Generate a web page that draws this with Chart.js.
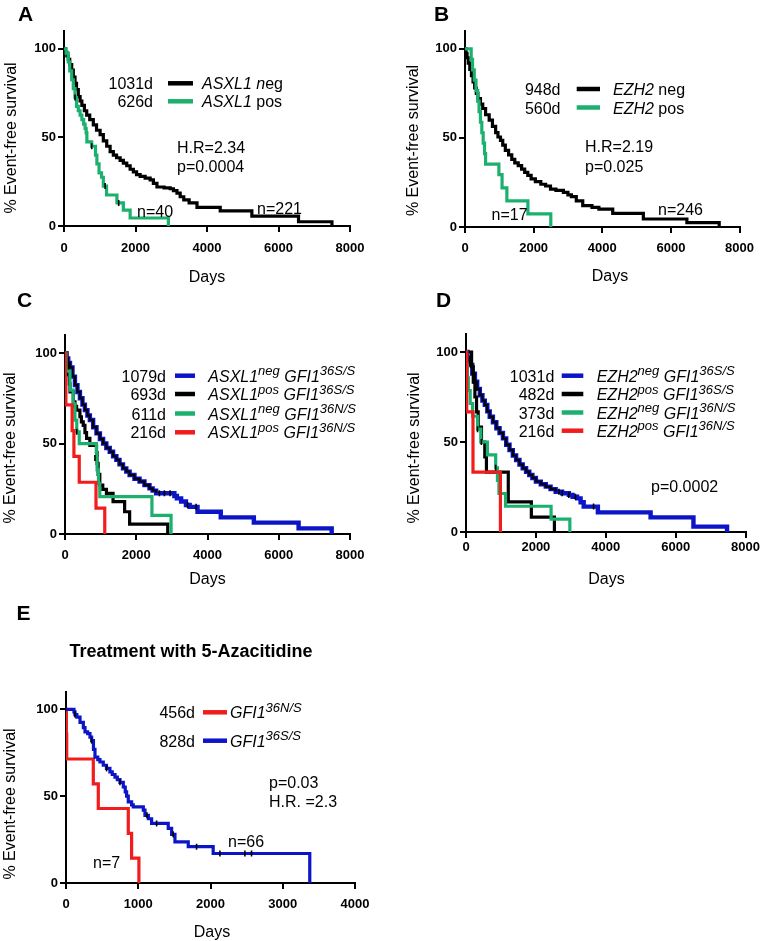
<!DOCTYPE html>
<html><head><meta charset="utf-8">
<script src="https://cdn.jsdelivr.net/npm/chart.js@4.4.1/dist/chart.umd.min.js"></script>
<style>
html,body{margin:0;padding:0;background:#fff;}
body{width:762px;height:941px;position:relative;overflow:hidden;}
canvas{position:absolute;}
</style></head><body>
<script>
// ---------- tick labels ----------
const xTicksLong = [0, 2000, 4000, 6000, 8000];
const xTicksShort = [0, 1000, 2000, 3000, 4000];
const yTicks = [0, 50, 100];

// ---------- Panel A: ASXL1 ----------
const asxl1Neg = [[0,100],[40,98],[80,96],[120,94],[160,91],[215,88],[260,84],[308,80.5],[350,77],[400,73],[450,70.5],[500,68],[570,65],[635,62.5],[720,60],[820,57],[910,54],[1010,51.5],[1100,48],[1195,45],[1290,42],[1380,40],[1470,38.5],[1570,37],[1660,35.5],[1755,34],[1850,32],[1940,30.5],[2030,29],[2130,28],[2270,27],[2410,26],[2500,24],[2600,22],[2800,21.5],[2970,21],[3060,20],[3160,18.5],[3250,16.5],[3350,14.7],[3500,13],[3720,10.5],[4370,8.5],[5255,5.6],[6560,2.4],[7495,0]];
const asxl1Pos = [[0,100],[60,97.5],[120,92.5],[160,87.5],[215,82.5],[260,77.5],[308,72.5],[350,67.5],[400,65],[450,62.5],[500,60],[550,57.5],[590,55],[620,52.5],[640,47.5],[775,45],[880,40],[920,35],[980,30],[1050,27.5],[1100,22.5],[1190,17.5],[1480,13],[1660,9],[1850,4.5],[2920,0]];
const asxl1PosCensor = [[308,72.5],[775,45],[1150,22.5],[1530,13]];

// ---------- Panel B: EZH2 ----------
const ezh2Neg = [[0,100],[30,97.5],[60,95],[94,92],[140,88.5],[188,85],[235,81.5],[282,78],[330,75],[376,72],[450,69],[517,66.5],[600,63],[705,60],[800,56.5],[893,53],[960,50.5],[1034,48.6],[1100,46],[1175,43],[1270,40.5],[1363,38],[1450,36],[1551,34.5],[1650,32.5],[1739,30.7],[1830,29],[1927,27],[2050,25.5],[2209,24],[2350,23],[2491,21.3],[2650,20.5],[2867,19.4],[3000,18],[3100,17],[3243,14.7],[3431,12],[3700,11],[3901,10],[4305,7.7],[5197,4.5],[6466,2.4],[7407,0]];
const ezh2Pos = [[0,100],[180,94.1],[220,88.2],[270,82.4],[320,76.5],[370,70.6],[410,64.7],[450,58.8],[490,52.9],[530,47.1],[570,41.2],[600,35.3],[987,29.4],[1080,22],[1220,14.7],[1833,7.4],[2500,0]];

// ---------- Panel C: ASXL1 x GFI1 ----------
const asxl1NegSS = [[0,100],[40,97],[90,94.5],[140,92],[210,87],[279,82.3],[350,78.5],[419,75],[490,71.5],[558,68.5],[630,65.5],[698,63],[790,59],[884,55.6],[980,52.5],[1070,50],[1160,47.5],[1256,45.5],[1350,43],[1442,41],[1530,38.5],[1628,36.3],[1720,34.5],[1814,32.6],[1950,30.5],[2093,29],[2230,27],[2372,25.2],[2460,24],[2558,22.5],[3070,21],[3140,19.7],[3260,18],[3395,16],[3500,15],[3720,12.3],[4372,9.2],[5301,6.3],[6557,3.1],[7486,0]];
const asxl1PosSS = [[0,100],[50,94],[93,88],[120,83],[140,78.6],[233,73],[280,70.5],[325,68.5],[419,64.8],[460,62],[512,60],[560,56],[605,52.9],[698,49],[884,45],[900,39],[930,33],[977,27],[1060,24.7],[1163,22.5],[1349,17.9],[1674,12.3],[1814,5.5],[2884,0]];
const asxl1NegNS = [[0,100],[30,90],[140,79.5],[230,72],[279,63],[330,56.5],[400,50],[884,42],[900,35.4],[940,28],[977,20.7],[2440,10.3],[2977,0]];
const asxl1PosNS = [[0,100],[10,85.7],[25,71.4],[200,57.1],[250,42.9],[400,28.6],[870,14.3],[1116,0]];
const asxl1NegSSCensor = [[2650,22.5],[2790,22.5],[2950,22.5],[3440,16],[3680,15]];
const asxl1NegNSCensor = [[330,56.5],[840,42]];

// ---------- Panel D: EZH2 x GFI1 ----------
const ezh2NegSS = [[0,100],[40,97],[80,95],[113,92.8],[180,88],[255,83.5],[320,79.5],[396,76],[470,73],[538,70.6],[610,67],[679,64],[770,61],[868,57.6],[960,55],[1057,52],[1150,48.5],[1245,45.5],[1340,42.5],[1434,40],[1530,37.5],[1623,35.4],[1720,33.5],[1811,31.7],[1900,30],[2000,28],[2140,26.5],[2283,25.2],[2420,23.8],[2566,22.4],[2750,21.5],[2943,20.6],[3050,19.6],[3180,18.7],[3280,16.5],[3368,14.1],[3774,10.9],[5283,8.1],[6509,3],[7471,0]];
const ezh2PosSS = [[0,100],[160,91.7],[208,83.3],[255,75],[302,66.7],[349,58.3],[443,50],[538,41.7],[585,33.3],[1210,16.7],[1870,8.3],[2530,0]];
const ezh2NegNS = [[0,100],[20,92.9],[40,85.7],[66,78.6],[120,71.4],[189,64.3],[330,57.1],[424,50],[613,42.9],[849,35.7],[900,28.6],[943,21.4],[1132,14.3],[2435,7.1],[2972,0]];
const ezh2PosNS = [[0,100],[20,66.7],[200,33.3],[985,0]];
const ezh2NegSSCensor = [[2660,22.4],[2754,21.5],[2943,20.6],[3132,19.6],[3651,14.1]];
const ezh2NegNSCensor = [[330,57.1],[440,50],[849,35.7]];

// ---------- Panel E: 5-Azacitidine ----------
const azaNS = [[0,100],[5,85.7],[10,71.4],[378,57.1],[447,42.9],[862,28.6],[908,14.3],[1009,0]];
const azaSS = [[0,100],[110,98.5],[124,97],[150,95.5],[194,92.5],[240,89.5],[263,87],[300,86],[332,84],[355,82],[380,77],[401,72.5],[440,71],[470,69.7],[516,67.8],[560,66],[608,64],[640,62.5],[678,61],[710,59.5],[747,58],[793,55.3],[820,52.5],[839,50],[862,46.7],[908,45],[931,43.8],[1070,42],[1093,39],[1140,37],[1185,34.3],[1415,31.5],[1462,28],[1508,23.7],[1692,20.9],[2037,17],[3374,0]];
const azaSSCensor = [[124,97],[355,82],[562,66],[747,58],[1120,39],[1254,34.3],[1484,28],[1807,20.9],[2130,17],[2476,17],[2568,17]];

// ---------- styling ----------
const FONT = '"Liberation Sans", Arial, Helvetica, sans-serif';
const GREEN = '#1cb06e', BLUE = '#0c14c8', RED = '#f21c1c', BLACK = '#000000';
Chart.defaults.font.family = FONT;

function curve(data, color, width) {
  return {data, borderColor: color, borderWidth: width || 3.2, stepped: 'before',
    pointRadius: 0, fill: false, tension: 0};
}
function censor(data) {
  return {data, showLine: false, pointStyle: 'line', pointRotation: 90, pointRadius: 3,
    pointBorderColor: '#000', pointBorderWidth: 1.6, borderColor: '#000'};
}

const ital = t => ({t, i: true});
const sup = t => ({t, i: true, s: true});
const rom = t => ({t});

const panels = [
  { letter: {t: 'A', x: 18, y: 21}, canvas: {x: 0, y: 0, w: 381, h: 295}, area: {l: 64, r: 350, t: 31, b: 226},
    xMax: 8000, xTicks: xTicksLong, xPad: 9,
    yTitle: {x: 10, y: 138}, xTitle: {x: 207, y: 281.5},
    datasets: [censor(asxl1PosCensor), curve(asxl1Pos, GREEN), curve(asxl1Neg, BLACK)],
    legend: {numR: 153, l1: 168, l2: 193, lx: 202, rows: [
      {b: 89.3, num: '1031d', c: BLACK, segs: [ital('ASXL1 n'), rom('eg')]},
      {b: 107.3, num: '626d', c: GREEN, segs: [ital('ASXL1'), rom(' pos')]}]},
    notes: [{t: 'H.R=2.34', x: 177, y: 153}, {t: 'p=0.0004', x: 177, y: 172}, {t: 'n=40', x: 137, y: 216.5}, {t: 'n=221', x: 257, y: 213.5}] },
  { letter: {t: 'B', x: 434, y: 21}, canvas: {x: 381, y: 0, w: 381, h: 295}, area: {l: 465, r: 745, t: 31, b: 227},
    xMax: 8000, xTicks: xTicksLong, xPad: 8,
    yTitle: {x: 412.7, y: 140.5}, xTitle: {x: 610, y: 281},
    datasets: [curve(ezh2Pos, GREEN), curve(ezh2Neg, BLACK)],
    legend: {numR: 560.5, l1: 576.7, l2: 600, lx: 613, rows: [
      {b: 95, num: '948d', c: BLACK, segs: [ital('EZH2'), rom(' neg')]},
      {b: 113.5, num: '560d', c: GREEN, segs: [ital('EZH2'), rom(' pos')]}]},
    notes: [{t: 'H.R=2.19', x: 585, y: 152}, {t: 'p=0.025', x: 585, y: 171.5}, {t: 'n=17', x: 491.5, y: 219.5}, {t: 'n=246', x: 658, y: 214.5}] },
  { letter: {t: 'C', x: 17, y: 306.7}, canvas: {x: 0, y: 285, w: 381, h: 305}, area: {l: 65, r: 350, t: 335, b: 534},
    xMax: 8000, xTicks: xTicksLong, xPad: 8,
    yTitle: {x: 9.5, y: 448}, xTitle: {x: 207.5, y: 583.5},
    datasets: [curve(asxl1PosNS, RED), censor(asxl1NegNSCensor), curve(asxl1NegNS, GREEN), curve(asxl1PosSS, BLACK),
               censor(asxl1NegSSCensor),
               curve(asxl1NegSS.filter(p => p[0] <= 2560), BLACK, 2), curve(asxl1NegSS, BLUE, 4.4)],
    legend: {numR: 166, l1: 175, l2: 195, lx: 208.3, rows: [
      {b: 381.7, num: '1079d', c: BLUE, segs: [ital('ASXL1'), sup('neg'), ital(' GFI1'), sup('36S/S')]},
      {b: 400, num: '693d', c: BLACK, segs: [ital('ASXL1'), sup('pos'), ital(' GFI1'), sup('36S/S')]},
      {b: 419.5, num: '611d', c: GREEN, segs: [ital('ASXL1'), sup('neg'), ital(' GFI1'), sup('36N/S')]},
      {b: 438.3, num: '216d', c: RED, segs: [ital('ASXL1'), sup('pos'), ital(' GFI1'), sup('36N/S')]}]},
    notes: [] },
  { letter: {t: 'D', x: 436, y: 306.7}, canvas: {x: 381, y: 285, w: 381, h: 305}, area: {l: 466, r: 747, t: 334, b: 532},
    xMax: 8000, xTicks: xTicksLong, xPad: 2,
    yTitle: {x: 413, y: 448}, xTitle: {x: 606.5, y: 584},
    datasets: [curve(ezh2PosNS, RED), censor(ezh2NegNSCensor), curve(ezh2NegNS, GREEN), curve(ezh2PosSS, BLACK),
               censor(ezh2NegSSCensor),
               curve(ezh2NegSS.filter(p => p[0] <= 2700), BLACK, 2), curve(ezh2NegSS, BLUE, 4.4)],
    legend: {numR: 554.3, l1: 561.7, l2: 583.3, lx: 596.7, rows: [
      {b: 381.7, num: '1031d', c: BLUE, segs: [ital('EZH2'), sup('neg'), ital(' GFI1'), sup('36S/S')]},
      {b: 400, num: '482d', c: BLACK, segs: [ital('EZH2'), sup('pos'), ital(' GFI1'), sup('36S/S')]},
      {b: 418.5, num: '373d', c: GREEN, segs: [ital('EZH2'), sup('neg'), ital(' GFI1'), sup('36N/S')]},
      {b: 436.7, num: '216d', c: RED, segs: [ital('EZH2'), sup('pos'), ital(' GFI1'), sup('36N/S')]}]},
    notes: [{t: 'p=0.0002', x: 651, y: 491.5}] },
  { letter: {t: 'E', x: 16.5, y: 620}, canvas: {x: 0, y: 575, w: 381, h: 366}, area: {l: 66, r: 355, t: 692, b: 883},
    xMax: 4000, xTicks: xTicksShort, xPad: 8,
    title: {t: 'Treatment with 5-Azacitidine', x: 191, y: 656.5},
    yTitle: {x: 9.5, y: 804}, xTitle: {x: 212, y: 936.5},
    datasets: [censor(azaSSCensor), curve(azaSS, BLUE), curve(azaNS, RED)],
    legend: {numR: 195, l1: 203, l2: 227, lx: 230, rows: [
      {b: 718.3, num: '456d', c: RED, segs: [ital('GFI1'), sup('36N/S')]},
      {b: 746.7, num: '828d', c: BLUE, segs: [ital('GFI1'), sup('36S/S')]}]},
    notes: [{t: 'p=0.03', x: 269, y: 788}, {t: 'H.R. =2.3', x: 269, y: 806.5}, {t: 'n=66', x: 228, y: 846.5}, {t: 'n=7', x: 93, y: 868}] }
];

function drawRich(ctx, segs, x, base) {
  let cx = x;
  for (const s of segs) {
    const size = s.s ? 13 : 16;
    ctx.font = (s.i ? 'italic ' : '') + size + 'px ' + FONT;
    ctx.fillText(s.t, cx, s.s ? base - 6.5 : base);
    cx += ctx.measureText(s.t).width;
  }
}

function textPlugin(p) {
  return {
    id: 'panelText' + p.letter.t,
    afterDraw(chart) {
      const ctx = chart.ctx, ox = p.canvas.x, oy = p.canvas.y;
      ctx.save();
      ctx.fillStyle = '#000';
      ctx.textBaseline = 'alphabetic';
      ctx.textAlign = 'left';
      ctx.font = 'bold 21px ' + FONT;
      ctx.fillText(p.letter.t, p.letter.x - ox, p.letter.y - oy);
      if (p.title) {
        ctx.font = 'bold 18px ' + FONT;
        ctx.textAlign = 'center';
        ctx.fillText(p.title.t, p.title.x - ox, p.title.y - oy);
      }
      // axis titles
      ctx.font = '16px ' + FONT;
      ctx.textAlign = 'center';
      ctx.fillText('Days', p.xTitle.x - ox, p.xTitle.y - oy);
      ctx.save();
      ctx.translate(p.yTitle.x - ox + 5.5, p.yTitle.y - oy);
      ctx.rotate(-Math.PI / 2);
      ctx.fillText('% Event-free survival', 0, 0);
      ctx.restore();
      // legend
      const L = p.legend;
      for (const r of L.rows) {
        ctx.font = '16px ' + FONT;
        ctx.textAlign = 'right';
        ctx.fillStyle = '#000';
        ctx.fillText(r.num, L.numR - ox, r.b - oy);
        ctx.strokeStyle = r.c;
        ctx.lineWidth = 4.5;
        ctx.beginPath();
        ctx.moveTo(L.l1 - ox, r.b - 6 - oy);
        ctx.lineTo(L.l2 - ox, r.b - 6 - oy);
        ctx.stroke();
        ctx.textAlign = 'left';
        drawRich(ctx, r.segs, L.lx - ox, r.b - oy);
      }
      // notes
      ctx.font = '16px ' + FONT;
      ctx.textAlign = 'left';
      for (const n of p.notes) ctx.fillText(n.t, n.x - ox, n.y - oy);
      ctx.restore();
    }
  };
}

const tickFont = {family: FONT, size: 13, weight: 'bold'};
const gridOpts = {display: true, drawOnChartArea: false, drawTicks: true, tickLength: 6, color: '#000', lineWidth: 2};
const borderOpts = {display: true, color: '#000', width: 2};

for (const p of panels) {
  const cv = document.createElement('canvas');
  cv.width = p.canvas.w; cv.height = p.canvas.h;
  cv.style.left = p.canvas.x + 'px'; cv.style.top = p.canvas.y + 'px';
  cv.style.width = p.canvas.w + 'px'; cv.style.height = p.canvas.h + 'px';
  document.body.appendChild(cv);
  const yW = 30, xH = 30;
  const pad = {
    left: p.area.l - p.canvas.x - yW,
    right: p.canvas.x + p.canvas.w - p.area.r,
    top: p.area.t - p.canvas.y,
    bottom: p.canvas.y + p.canvas.h - p.area.b - xH
  };
  new Chart(cv, {
    type: 'line',
    data: {datasets: p.datasets},
    options: {
      responsive: false, animation: false, devicePixelRatio: 1,
      layout: {padding: pad},
      plugins: {legend: {display: false}, tooltip: {enabled: false}, title: {display: false}},
      scales: {
        x: {type: 'linear', min: 0, max: p.xMax,
            afterBuildTicks: s => { s.ticks = p.xTicks.map(v => ({value: v})); },
            afterFit: s => { s.height = xH; },
            ticks: {font: tickFont, color: '#000', padding: p.xPad, autoSkip: false, maxRotation: 0, callback: v => String(v)},
            grid: gridOpts, border: borderOpts},
        y: {type: 'linear', min: 0, max: 110,
            afterBuildTicks: s => { s.ticks = yTicks.map(v => ({value: v})); },
            afterFit: s => { s.width = yW; },
            ticks: {font: tickFont, color: '#000', padding: 2, autoSkip: false, callback: v => String(v)},
            grid: gridOpts, border: borderOpts}
      }
    },
    plugins: [textPlugin(p)]
  });
}
</script>
</body></html>
